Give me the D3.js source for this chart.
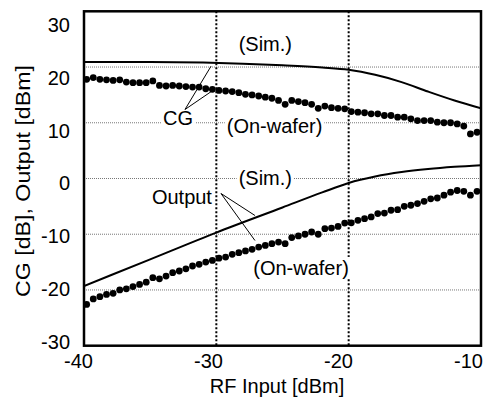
<!DOCTYPE html>
<html><head><meta charset="utf-8">
<script src="https://cdn.jsdelivr.net/npm/d3@7"></script>
<style>
html,body{margin:0;padding:0;background:#fff;}
text{font-family:"Liberation Sans",Arial,sans-serif;fill:#000;}
</style>
</head><body>
<svg id="chart" width="489" height="403"></svg>
<script>
// ---- data ----
const xTicks = [-40, -30, -20, -10];
const yTicks = [-30, -20, -10, 0, 10, 20, 30];
const yGrid = [-20, -10, 0, 10, 20];
const xGrid = [-30, -20];

const measX = [-39.8,-39.3,-38.8,-38.3,-37.8,-37.3,-36.8,-36.3,-35.8,-35.3,
  -34.8,-34.3,-33.8,-33.3,-32.8,-32.3,-31.8,-31.3,-30.8,-30.3,
  -29.8,-29.3,-28.8,-28.3,-27.8,-27.3,-26.8,-26.3,-25.8,-25.3,
  -24.8,-24.3,-23.8,-23.3,-22.8,-22.3,-21.8,-21.3,-20.8,-20.3,
  -19.8,-19.3,-18.8,-18.3,-17.8,-17.3,-16.8,-16.3,-15.8,-15.3,
  -14.8,-14.3,-13.8,-13.3,-12.8,-12.3,-11.8,-11.3,-10.8,-10.3];
const cgMeas = [17.8,18.1,17.8,17.7,17.6,17.7,17.3,17.2,17.2,17.2,
  17.5,16.7,16.6,16.7,16.6,16.5,16.4,16.4,16.1,16.0,
  15.8,15.7,15.6,15.4,15.1,15.0,14.8,14.6,14.4,14.0,
  13.3,14.0,13.8,13.6,13.3,12.6,13.0,12.7,12.6,12.5,
  12.0,11.9,11.8,11.6,11.6,11.3,11.3,11.0,11.0,10.7,
  10.4,10.4,10.4,10.1,10.0,10.0,9.8,9.4,8.0,8.3];
const outMeas = [-22.6,-21.6,-21.2,-20.8,-20.6,-20.0,-19.8,-19.4,-19.0,-18.6,
  -17.8,-18.0,-17.5,-16.9,-16.6,-16.2,-15.7,-15.4,-15.0,-14.7,
  -14.3,-14.1,-13.6,-13.3,-13.0,-12.7,-12.3,-12.0,-11.7,-11.4,
  -11.7,-10.6,-10.3,-10.0,-9.6,-10.0,-9.0,-8.9,-8.6,-8.0,
  -7.95,-7.5,-7.2,-6.9,-6.3,-6.2,-5.7,-5.6,-5.0,-4.8,
  -4.5,-4.1,-3.65,-3.5,-3.0,-2.45,-2.15,-2.3,-3.0,-2.3];

const cgSimX = [-40,-35,-31,-28,-25,-22,-20,-18,-16,-14,-12,-10];
const cgSimY = [20.9,20.9,20.8,20.6,20.3,19.9,19.5,18.6,17.3,15.6,14.0,12.6];
const outSimX = [-40,-35,-30,-25,-22,-20,-18,-16,-14,-12,-10];
const outSimY = [-19.3,-14.5,-9.7,-5.2,-2.5,-0.8,0.35,1.15,1.7,2.1,2.4];

// annotation labels [text, x, y] in data units (baseline-centre)
const labels = [
  ["(Sim.)", -26.3, 22.9],
  ["CG", -32.9, 9.6],
  ["(On-wafer)", -25.6, 8.1],
  ["(Sim.)", -26.3, -1.2],
  ["Output", -32.6, -4.5],
  ["(On-wafer)", -23.6, -17.3]
];
// leader lines [x1,y1,x2,y2] in data units
const leaders = [
  [-32.37, 12.38, -30.4, 20.15],
  [-32.37, 12.38, -30.35, 15.66],
  [-29.65, -2.69, -27.08, -6.64],
  [-29.65, -2.69, -27.08, -11.13]
];

// ---- layout ----
const L = 84, R = 481, T = 11.3, B = 345.7;
const svg = d3.select("#chart");
const x = d3.scaleLinear().domain([-40, -10]).range([L, R]);
const y = d3.scaleLinear().domain([-30, 30]).range([B, T]);
const xLab = d3.scaleLinear().domain([-40, -10]).range([78, 468]);
const yLab = d3.scaleLinear().domain([-30, 30]).range([342, 25]);
const fmt = d => String(d);

// horizontal grid
svg.append("g").selectAll("line").data(yGrid).join("line")
  .attr("x1", L).attr("x2", R).attr("y1", d => y(d)).attr("y2", d => y(d))
  .attr("stroke", "#777").attr("stroke-width", 1).attr("stroke-dasharray", "1,1");
// vertical grid
svg.append("g").selectAll("line").data(xGrid).join("line")
  .attr("x1", d => x(d)).attr("x2", d => x(d)).attr("y1", T).attr("y2", B)
  .attr("stroke", "#000").attr("stroke-width", 2).attr("stroke-dasharray", "2,2");

// annotation text with white background
const fs = 20;
const lg = svg.append("g");
labels.forEach(([t, dx, dy]) => {
  const g = lg.append("g");
  const txt = g.append("text").attr("x", x(dx)).attr("y", y(dy))
    .attr("text-anchor", "middle").attr("font-size", fs).text(t);
  const bb = txt.node().getBBox();
  g.insert("rect", "text").attr("x", bb.x - 2).attr("y", bb.y)
    .attr("width", bb.width + 4).attr("height", bb.height).attr("fill", "#fff");
});

// clip
svg.append("clipPath").attr("id", "clip").append("rect")
  .attr("x", L).attr("y", T).attr("width", R - L).attr("height", B - T);

const line = d3.line().x(d => x(d[0])).y(d => y(d[1])).curve(d3.curveMonotoneX);
svg.append("path").datum(cgSimX.map((v, i) => [v, cgSimY[i]]))
  .attr("d", line).attr("fill", "none").attr("stroke", "#000").attr("stroke-width", 2)
  .attr("clip-path", "url(#clip)");
svg.append("path").datum(outSimX.map((v, i) => [v, outSimY[i]]))
  .attr("d", line).attr("fill", "none").attr("stroke", "#000").attr("stroke-width", 2)
  .attr("clip-path", "url(#clip)");

// dots
svg.append("g").selectAll("circle").data(measX.map((v, i) => [v, cgMeas[i]])).join("circle")
  .attr("cx", d => x(d[0])).attr("cy", d => y(d[1])).attr("r", 3.4).attr("fill", "#000");
svg.append("g").selectAll("circle").data(measX.map((v, i) => [v, outMeas[i]])).join("circle")
  .attr("cx", d => x(d[0])).attr("cy", d => y(d[1])).attr("r", 3.4).attr("fill", "#000");

// leaders
svg.append("g").selectAll("line").data(leaders).join("line")
  .attr("x1", d => x(d[0])).attr("y1", d => y(d[1]))
  .attr("x2", d => x(d[2])).attr("y2", d => y(d[3]))
  .attr("stroke", "#000").attr("stroke-width", 1);

// frame
svg.append("rect").attr("x", L).attr("y", T).attr("width", R - L).attr("height", B - T)
  .attr("fill", "none").attr("stroke", "#000").attr("stroke-width", 2.5);

// axes labels via d3 axes
const ax = svg.append("g").attr("transform", `translate(0,${B + 8})`)
  .call(d3.axisBottom(xLab).tickValues(xTicks).tickSize(0).tickPadding(0).tickFormat(fmt));
ax.select(".domain").remove();
ax.selectAll("text").attr("font-size", fs).attr("font-family", null).attr("fill", "#000");

const ay = svg.append("g").attr("transform", "translate(70,0)")
  .call(d3.axisLeft(yLab).tickValues(yTicks).tickSize(0).tickPadding(0).tickFormat(fmt));
ay.select(".domain").remove();
ay.selectAll("text").attr("font-size", fs).attr("font-family", null).attr("fill", "#000");

// titles
svg.append("text").attr("x", 277).attr("y", 393).attr("text-anchor", "middle")
  .attr("font-size", fs).text("RF Input [dBm]");
svg.append("text").attr("transform", "translate(30,181) rotate(-90)")
  .attr("text-anchor", "middle").attr("font-size", fs)
  .attr("textLength", 232).attr("lengthAdjust", "spacingAndGlyphs")
  .text("CG [dB], Output [dBm]");
</script>
</body></html>
